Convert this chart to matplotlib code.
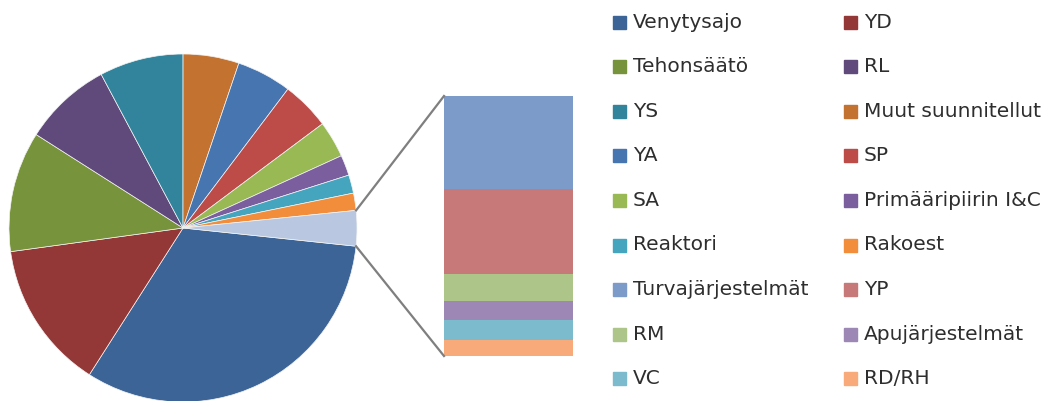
import numpy as np
import matplotlib
matplotlib.use('Agg')
import matplotlib.pyplot as plt
from matplotlib.patches import Rectangle

# pie slices (share of total, %), clockwise from the "other" slice
pie_labels = ['Venytysajo', 'YD', 'Tehonsäätö', 'RL', 'YS', 'Muut suunnitellut',
              'YA', 'SP', 'SA', 'Primääripiirin I&C', 'Reaktori', 'Rakoest']
pie_values = [32.4, 13.8, 11.2, 8.2, 7.8, 5.2, 5.1, 4.5, 3.4, 1.9, 1.7, 1.6]
pie_colors = ['#3c6496', '#933836', '#77933c', '#5f4a7b', '#31849b', '#c3722f',
              '#4675b0', '#bd4b48', '#98b954', '#7b5e9e', '#45a5bf', '#f28d3b']

# breakdown of the small slice, top to bottom
bar_labels = ['Turvajärjestelmät', 'YP', 'RM', 'Apujärjestelmät', 'VC', 'RD/RH']
bar_values = [1.18, 1.07, 0.35, 0.23, 0.26, 0.20]
bar_colors = ['#7d9bc9', '#c7797a', '#adc588', '#9d87b5', '#7cbacd', '#f8aa7a']
other_color = '#b9c8e0'

W, H = 1047, 401
fig = plt.figure(figsize=(W / 100, H / 100), dpi=100)
ax = fig.add_axes([0, 0, 1, 1])

# pie
cx, cy, r = 183, H - 228, 174
other = sum(bar_values)
vals = pie_values + [other]
total = sum(vals)
other_ang = 360 * other / total
start = -other_ang / 2 - 0.1
ax.pie(vals, colors=pie_colors + [other_color], center=(cx, cy), radius=r,
       startangle=start, counterclock=False,
       wedgeprops=dict(edgecolor='#f4f4f4', linewidth=0.5))

# bar of the small slice
bx0, bx1 = 444, 573
btop, bbot = H - 96, H - 356
scale = (btop - bbot) / other
bottom = btop
for v, c in zip(bar_values, bar_colors):
    bottom -= v * scale
    ax.bar((bx0 + bx1) / 2, v * scale, width=bx1 - bx0, bottom=bottom, color=c,
           edgecolor='none')

# connector lines
a1 = np.radians(start + other_ang)
a2 = np.radians(start)
ax.plot([cx + r * np.cos(a1), bx0], [cy + r * np.sin(a1), btop], color='#7f7f7f', lw=1.6)
ax.plot([cx + r * np.cos(a2), bx0], [cy + r * np.sin(a2), bbot], color='#7f7f7f', lw=1.6)

# legend, row by row in two columns
labels = pie_labels + bar_labels
colors = pie_colors + bar_colors
for i, (lab, c) in enumerate(zip(labels, colors)):
    row, col = divmod(i, 2)
    y = H - (22 + 44.6 * row)
    mx = 613 if col == 0 else 844
    ax.add_patch(Rectangle((mx, y - 6.5), 13, 13, color=c))
    ax.text(mx + 20, y, lab, fontsize=14.5, color='#2e2e2e', va='center', ha='left')

ax.set_xlim(0, W)
ax.set_ylim(0, H)
ax.set_aspect('auto')
ax.axis('off')

fig.savefig('out.png', dpi=100)
